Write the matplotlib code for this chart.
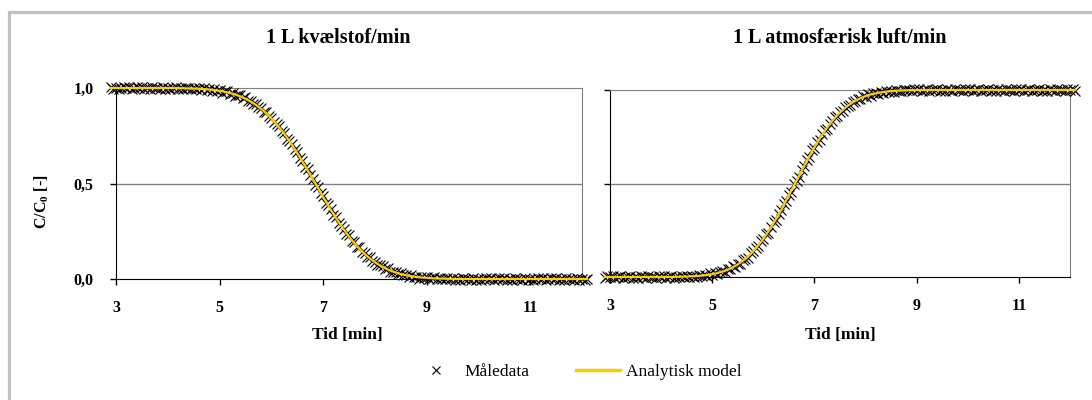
import matplotlib.pyplot as plt
from matplotlib.lines import Line2D
from matplotlib.patches import Rectangle

# time axis [min], shared by both runs
tid = [2.90, 2.95, 3.00, 3.05, 3.10, 3.15, 3.20, 3.25, 3.30, 3.35,
       3.40, 3.45, 3.50, 3.55, 3.60, 3.65, 3.70, 3.75, 3.80, 3.85,
       3.90, 3.95, 4.00, 4.05, 4.10, 4.15, 4.20, 4.25, 4.30, 4.35,
       4.40, 4.45, 4.50, 4.55, 4.60, 4.65, 4.70, 4.75, 4.80, 4.85,
       4.90, 4.95, 5.00, 5.05, 5.10, 5.15, 5.20, 5.25, 5.30, 5.35,
       5.40, 5.45, 5.50, 5.55, 5.60, 5.65, 5.70, 5.75, 5.80, 5.85,
       5.90, 5.95, 6.00, 6.05, 6.10, 6.15, 6.20, 6.25, 6.30, 6.35,
       6.40, 6.45, 6.50, 6.55, 6.60, 6.65, 6.70, 6.75, 6.80, 6.85,
       6.90, 6.95, 7.00, 7.05, 7.10, 7.15, 7.20, 7.25, 7.30, 7.35,
       7.40, 7.45, 7.50, 7.55, 7.60, 7.65, 7.70, 7.75, 7.80, 7.85,
       7.90, 7.95, 8.00, 8.05, 8.10, 8.15, 8.20, 8.25, 8.30, 8.35,
       8.40, 8.45, 8.50, 8.55, 8.60, 8.65, 8.70, 8.75, 8.80, 8.85,
       8.90, 8.95, 9.00, 9.05, 9.10, 9.15, 9.20, 9.25, 9.30, 9.35,
       9.40, 9.45, 9.50, 9.55, 9.60, 9.65, 9.70, 9.75, 9.80, 9.85,
       9.90, 9.95, 10.00, 10.05, 10.10, 10.15, 10.20, 10.25, 10.30, 10.35,
       10.40, 10.45, 10.50, 10.55, 10.60, 10.65, 10.70, 10.75, 10.80, 10.85,
       10.90, 10.95, 11.00, 11.05, 11.10, 11.15, 11.20, 11.25, 11.30, 11.35,
       11.40, 11.45, 11.50, 11.55, 11.60, 11.65, 11.70, 11.75, 11.80, 11.85,
       11.90, 11.95, 12.00, 12.05, 12.10]

# 1 L kvaelstof/min - measured and analytic
n2_maaling = [1.004, 0.997, 1.002, 0.995, 1.001, 1.005, 0.998, 1.003, 0.996, 1.000,
              1.003, 0.999, 1.005, 0.997, 1.002, 0.996, 1.004, 0.998, 1.001, 0.995,
              1.004, 0.997, 1.002, 0.995, 1.001, 1.005, 0.997, 1.002, 0.995, 0.998,
              1.001, 0.996, 1.002, 0.994, 0.998, 0.991, 0.998, 0.991, 0.993, 0.986,
              0.995, 0.983, 0.988, 0.976, 0.982, 0.984, 0.971, 0.975, 0.960, 0.961,
              0.961, 0.948, 0.951, 0.933, 0.932, 0.915, 0.918, 0.899, 0.894, 0.873,
              0.874, 0.851, 0.844, 0.820, 0.813, 0.802, 0.775, 0.765, 0.735, 0.722,
              0.707, 0.679, 0.667, 0.634, 0.619, 0.587, 0.576, 0.544, 0.525, 0.493,
              0.483, 0.449, 0.433, 0.400, 0.386, 0.369, 0.337, 0.324, 0.292, 0.278,
              0.264, 0.238, 0.229, 0.201, 0.192, 0.167, 0.165, 0.142, 0.134, 0.113,
              0.114, 0.094, 0.091, 0.072, 0.073, 0.070, 0.053, 0.055, 0.038, 0.039,
              0.039, 0.028, 0.033, 0.019, 0.023, 0.011, 0.021, 0.010, 0.013, 0.002,
              0.012, 0.004, 0.008, 0.000, 0.005, 0.008, 0.001, 0.005, -0.002, 0.002,
              0.004, 0.000, 0.006, -0.003, 0.002, -0.004, 0.004, -0.002, 0.001, -0.005,
              0.004, -0.003, 0.002, -0.005, 0.001, 0.005, -0.002, 0.003, -0.004, 0.000,
              0.003, -0.001, 0.005, -0.003, 0.002, -0.004, 0.004, -0.002, 0.001, -0.005,
              0.004, -0.003, 0.002, -0.005, 0.001, 0.005, -0.002, 0.003, -0.004, 0.000,
              0.003, -0.001, 0.005, -0.003, 0.002, -0.004, 0.004, -0.002, 0.001, -0.005,
              0.004, -0.003, 0.002, -0.005, 0.001]
n2_model = [1.000, 1.000, 1.000, 1.000, 1.000, 1.000, 1.000, 1.000, 1.000, 1.000,
            1.000, 1.000, 1.000, 1.000, 1.000, 1.000, 1.000, 1.000, 1.000, 1.000,
            1.000, 1.000, 1.000, 1.000, 1.000, 1.000, 0.999, 0.999, 0.999, 0.998,
            0.998, 0.997, 0.997, 0.997, 0.996, 0.995, 0.994, 0.993, 0.992, 0.991,
            0.989, 0.987, 0.985, 0.983, 0.980, 0.977, 0.974, 0.970, 0.966, 0.961,
            0.956, 0.950, 0.944, 0.937, 0.929, 0.921, 0.912, 0.902, 0.892, 0.880,
            0.868, 0.855, 0.841, 0.827, 0.811, 0.795, 0.778, 0.760, 0.741, 0.722,
            0.702, 0.681, 0.660, 0.638, 0.616, 0.593, 0.570, 0.547, 0.523, 0.500,
            0.477, 0.453, 0.430, 0.407, 0.384, 0.362, 0.340, 0.319, 0.298, 0.278,
            0.259, 0.240, 0.222, 0.205, 0.189, 0.173, 0.159, 0.145, 0.132, 0.120,
            0.108, 0.098, 0.088, 0.079, 0.071, 0.063, 0.056, 0.050, 0.044, 0.039,
            0.034, 0.030, 0.026, 0.023, 0.020, 0.017, 0.015, 0.013, 0.011, 0.009,
            0.008, 0.007, 0.006, 0.005, 0.004, 0.003, 0.003, 0.002, 0.002, 0.002,
            0.001, 0.001, 0.001, 0.000, 0.000, 0.000, 0.000, 0.000, 0.000, 0.000,
            0.000, 0.000, 0.000, 0.000, 0.000, 0.000, 0.000, 0.000, 0.000, 0.000,
            0.000, 0.000, 0.000, 0.000, 0.000, 0.000, 0.000, 0.000, 0.000, 0.000,
            0.000, 0.000, 0.000, 0.000, 0.000, 0.000, 0.000, 0.000, 0.000, 0.000,
            0.000, 0.000, 0.000, 0.000, 0.000, 0.000, 0.000, 0.000, 0.000, 0.000,
            0.000, 0.000, 0.000, 0.000, 0.000]

# 1 L atmosfaerisk luft/min - measured and analytic
luft_maaling = [-0.003, 0.005, -0.001, 0.004, -0.005, 0.002, 0.003, -0.004, 0.001, -0.002,
                0.005, -0.003, 0.001, -0.004, 0.004, -0.002, -0.005, 0.003, 0.000, 0.002,
                -0.003, 0.005, -0.001, 0.004, -0.005, 0.002, 0.003, -0.004, 0.002, -0.001,
                0.007, -0.001, 0.003, -0.001, 0.008, 0.002, 0.000, 0.009, 0.008, 0.011,
                0.007, 0.020, 0.013, 0.024, 0.014, 0.028, 0.033, 0.028, 0.041, 0.042,
                0.059, 0.055, 0.070, 0.071, 0.093, 0.095, 0.103, 0.127, 0.137, 0.155,
                0.165, 0.193, 0.202, 0.230, 0.237, 0.268, 0.292, 0.305, 0.337, 0.356,
                0.392, 0.406, 0.438, 0.457, 0.495, 0.513, 0.535, 0.573, 0.595, 0.623,
                0.642, 0.677, 0.692, 0.723, 0.732, 0.763, 0.784, 0.794, 0.820, 0.832,
                0.858, 0.862, 0.882, 0.886, 0.910, 0.912, 0.918, 0.938, 0.942, 0.952,
                0.952, 0.969, 0.965, 0.978, 0.969, 0.982, 0.986, 0.979, 0.989, 0.986,
                0.996, 0.990, 0.995, 0.991, 1.000, 0.995, 0.992, 1.001, 0.998, 1.001,
                0.996, 1.004, 0.999, 1.004, 0.995, 1.002, 1.003, 0.996, 1.001, 0.998,
                1.005, 0.997, 1.001, 0.996, 1.004, 0.998, 0.995, 1.003, 1.000, 1.002,
                0.997, 1.005, 0.999, 1.004, 0.995, 1.002, 1.003, 0.996, 1.001, 0.998,
                1.005, 0.997, 1.001, 0.996, 1.004, 0.998, 0.995, 1.003, 1.000, 1.002,
                0.997, 1.005, 0.999, 1.004, 0.995, 1.002, 1.003, 0.996, 1.001, 0.998,
                1.005, 0.997, 1.001, 0.996, 1.004, 0.998, 0.995, 1.003, 1.000, 1.002,
                0.997, 1.005, 0.999, 1.004, 0.995]
luft_model = [0.000, 0.000, 0.000, 0.000, 0.000, 0.000, 0.000, 0.000, 0.000, 0.000,
              0.000, 0.000, 0.000, 0.000, 0.000, 0.000, 0.000, 0.000, 0.000, 0.000,
              0.000, 0.000, 0.000, 0.000, 0.000, 0.000, 0.000, 0.000, 0.001, 0.001,
              0.002, 0.002, 0.002, 0.003, 0.004, 0.004, 0.005, 0.006, 0.008, 0.009,
              0.011, 0.013, 0.015, 0.018, 0.021, 0.025, 0.029, 0.034, 0.039, 0.045,
              0.052, 0.059, 0.068, 0.077, 0.087, 0.098, 0.110, 0.123, 0.137, 0.152,
              0.169, 0.186, 0.204, 0.224, 0.244, 0.265, 0.288, 0.311, 0.335, 0.359,
              0.385, 0.410, 0.436, 0.463, 0.489, 0.516, 0.542, 0.569, 0.595, 0.620,
              0.646, 0.670, 0.694, 0.717, 0.739, 0.760, 0.780, 0.800, 0.818, 0.835,
              0.851, 0.866, 0.880, 0.892, 0.904, 0.915, 0.925, 0.934, 0.942, 0.949,
              0.956, 0.962, 0.967, 0.972, 0.976, 0.979, 0.982, 0.985, 0.987, 0.989,
              0.991, 0.993, 0.994, 0.995, 0.996, 0.997, 0.997, 0.998, 0.998, 0.999,
              0.999, 0.999, 1.000, 1.000, 1.000, 1.000, 1.000, 1.000, 1.000, 1.000,
              1.000, 1.000, 1.000, 1.000, 1.000, 1.000, 1.000, 1.000, 1.000, 1.000,
              1.000, 1.000, 1.000, 1.000, 1.000, 1.000, 1.000, 1.000, 1.000, 1.000,
              1.000, 1.000, 1.000, 1.000, 1.000, 1.000, 1.000, 1.000, 1.000, 1.000,
              1.000, 1.000, 1.000, 1.000, 1.000, 1.000, 1.000, 1.000, 1.000, 1.000,
              1.000, 1.000, 1.000, 1.000, 1.000, 1.000, 1.000, 1.000, 1.000, 1.000,
              1.000, 1.000, 1.000, 1.000, 1.000]

titler = ['1 L kvælstof/min', '1 L atmosfærisk luft/min']
x_ticks = [3, 5, 7, 9, 11]
y_ticks = [0.0, 0.5, 1.0]
y_labels = ['0,0', '0,5', '1,0']

gul = '#FFCC00'
plt.rcParams['font.family'] = ['Liberation Serif', 'DejaVu Serif']

W, H = 1092, 400
fig = plt.figure(figsize=(W / 100, H / 100), dpi=100)

# grey frame around the whole chart
fig.add_artist(Rectangle((8.5 / W, -0.05), 1.2, 1 - 11.5 / H + 0.05,
                         transform=fig.transFigure, fill=False,
                         edgecolor='#c0c0c0', linewidth=2.3))

ax1 = fig.add_axes([116 / W, 1 - 279 / H, 466 / W, 191 / H])
ax2 = fig.add_axes([610 / W, 1 - 277 / H, 460 / W, 187 / H])

serier = [(ax1, n2_maaling, n2_model), (ax2, luft_maaling, luft_model)]
for ax, maaling, model in serier:
    ax.plot(tid, maaling, linestyle='none', marker='x', color='black',
            markersize=6.5, markeredgewidth=0.8, clip_on=False, zorder=3)
    ax.plot(tid, model, color=gul, linewidth=1.6, clip_on=False, zorder=4)
    ax.set_xlim(3, 12)
    ax.set_ylim(0, 1)
    ax.set_xticks(x_ticks)
    ax.set_yticks(y_ticks)
    ax.axhline(0.5, color='#808080', linewidth=1, zorder=1)
    ax.spines['top'].set_color('#808080')
    ax.spines['right'].set_color('#808080')
    ax.spines['left'].set_color('black')
    ax.spines['bottom'].set_color('black')
    ax.tick_params(direction='out', length=4, width=1, labelsize=11.5)
    ax.tick_params(axis='x', pad=11)
    ax.tick_params(axis='y', pad=12)
    for lab in ax.get_xticklabels() + ax.get_yticklabels():
        lab.set_fontweight('bold')

ax1.set_yticklabels(y_labels, fontweight='bold')
ax2.set_yticklabels([])

# titles and axis labels
fig.text(338 / W, 1 - 38 / H, titler[0], ha='center', va='center',
         fontsize=14.5, fontweight='bold')
fig.text(840 / W, 1 - 38 / H, titler[1], ha='center', va='center',
         fontsize=14.5, fontweight='bold')
fig.text(347 / W, 1 - 335 / H, 'Tid [min]', ha='center', va='center',
         fontsize=12.5, fontweight='bold')
fig.text(840 / W, 1 - 335 / H, 'Tid [min]', ha='center', va='center',
         fontsize=12.5, fontweight='bold')
fig.text(42 / W, 1 - 202 / H, 'C/C$_\\mathregular{0}$ [-]', rotation=90,
         ha='center', va='center', fontsize=11.5, fontweight='bold')

handles = [Line2D([], [], linestyle='none', marker='x', color='black',
                  markersize=6, markeredgewidth=0.8),
           Line2D([], [], color=gul, linewidth=2.5)]
fig.legend(handles, ['Måledata', 'Analytisk model'], loc='center',
           bbox_to_anchor=(578 / W, 1 - 372 / H), ncol=2, frameon=False,
           fontsize=12.5, handlelength=2.5, handletextpad=0.4,
           columnspacing=2.7)

fig.savefig('out.png', dpi=100)
